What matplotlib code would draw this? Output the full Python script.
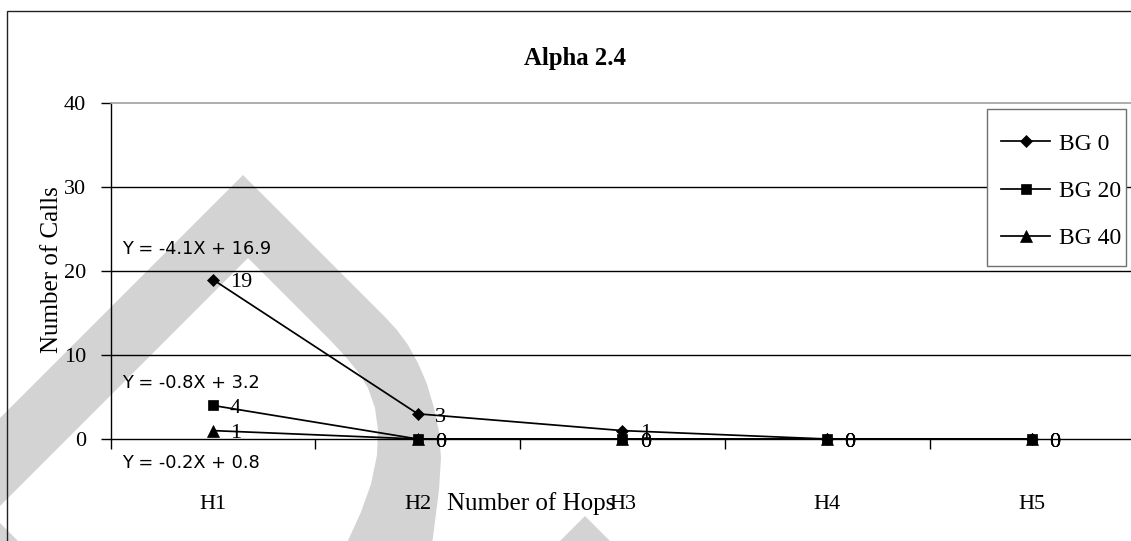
import matplotlib.pyplot as plt
import matplotlib.patches as patches

hops = ['H1', 'H2', 'H3', 'H4', 'H5']
series_names = ['BG 0', 'BG 20', 'BG 40']
bg0 = [19, 3, 1, 0, 0]
bg20 = [4, 0, 0, 0, 0]
bg40 = [1, 0, 0, 0, 0]
trend_labels = ['Y = -4.1X + 16.9', 'Y = -0.8X + 3.2', 'Y = -0.2X + 0.8']

W, H = 1131, 541
serif = 'Liberation Serif'


def px(x, y):
    # pixel position (from top left) to figure fraction
    return (x / W, 1 - y / H)


fig = plt.figure(figsize=(W / 100, H / 100), dpi=100)

# grey drop-shaped background stroke
outer = [(-5, 423), (243, 175), (385, 317), (397, 330), (408, 345), (418, 363),
         (427, 384), (434, 408), (439, 432), (441, 458), (439, 490), (432, 545)]
inner = [(346, 545), (361, 512), (371, 484), (377, 455), (378, 430), (375, 408),
         (368, 388), (358, 372), (345, 356), (330, 340), (248, 258), (-5, 511)]
grey = '#d3d3d3'
drop = patches.Polygon([px(*p) for p in outer + inner], closed=True,
                       transform=fig.transFigure, facecolor=grey,
                       edgecolor='none', zorder=-2)
corner = patches.Polygon([px(-5, 518), px(22, 545), px(-5, 545)], closed=True,
                         transform=fig.transFigure, facecolor=grey,
                         edgecolor='none', zorder=-2)
peak = patches.Polygon([px(585, 516), px(556, 545), px(614, 545)], closed=True,
                       transform=fig.transFigure, facecolor=grey,
                       edgecolor='none', zorder=-2)
fig.patches.extend([drop, corner, peak])

# outer chart border
border = patches.Rectangle(px(6.7, 560), (1150 - 6.7) / W, (560 - 11) / H,
                           transform=fig.transFigure, facecolor='none',
                           edgecolor='#222222', linewidth=1.0, zorder=-1)
fig.patches.append(border)

left, right = 110.5, 1134.5
top, bottom = 103.3, 439
ax = fig.add_axes([left / W, 1 - bottom / H, (right - left) / W, (bottom - top) / H])
ax.set_facecolor('none')

x = list(range(len(hops)))
styles = [dict(marker='D', markersize=6.3),
          dict(marker='s', markersize=7.6),
          dict(marker='^', markersize=8.4)]
for name, vals, st in zip(series_names, [bg0, bg20, bg40], styles):
    ax.plot(x, vals, color='black', linewidth=1.25, markerfacecolor='black',
            markeredgecolor='black', markeredgewidth=0.5, label=name,
            zorder=3, clip_on=False, **st)
    for xi, v in zip(x, vals):
        ax.annotate(str(v), (xi, v), xytext=(12.4, -2.4), textcoords='offset points',
                    ha='left', va='center', fontsize=16, family=serif, zorder=4)

# trendline equations
for lbl, yv in zip(trend_labels, [22.6, 6.7, -2.9]):
    ax.text(-0.445, yv, lbl, ha='left', va='center', fontsize=12.8,
            family='DejaVu Sans', clip_on=False)

ax.set_xlim(-0.5, 4.5)
ax.set_ylim(0, 40)
ax.set_yticks([0, 10, 20, 30, 40])
ax.set_xticks([i - 0.5 for i in range(len(hops) + 1)])
ax.set_xticklabels([])
ax.set_xticks(x, minor=True)
ax.set_xticklabels(hops, minor=True)
ax.tick_params(axis='x', which='major', direction='out', length=7.2, width=1.0)
ax.tick_params(axis='x', which='minor', length=0, pad=40, labelsize=16)
ax.tick_params(axis='y', direction='out', length=7.2, width=1.0, pad=10.5, labelsize=16)
for t in ax.get_xticklabels(minor=True) + ax.get_yticklabels():
    t.set_family(serif)

for yv in [10, 20, 30]:
    ax.axhline(yv, color='black', linewidth=1.0, zorder=1)
ax.spines['top'].set_color('#a0a0a0')
ax.spines['top'].set_linewidth(1.2)
ax.spines['right'].set_visible(False)
ax.spines['left'].set_linewidth(1.0)
ax.spines['bottom'].set_linewidth(1.0)

fig.text(*px(575, 58.6), 'Alpha 2.4', ha='center', va='center', fontsize=17.8,
         fontweight='bold', family=serif)
fig.text(*px(52, 270), 'Number of Calls', ha='center', va='center', rotation=90,
         fontsize=18, family=serif)
fig.text(*px(531, 504), 'Number of Hops', ha='center', va='center',
         fontsize=18, family=serif)

# legend: white box with grey edge, entries laid out inside it
legend_box = patches.Rectangle(px(987, 266), (1126 - 987) / W, (266 - 109) / H,
                               transform=fig.transFigure, facecolor='white',
                               edgecolor='#707070', linewidth=1.0, zorder=4.5)
ax.add_artist(legend_box)
leg = ax.legend(loc='center left', bbox_to_anchor=px(1001, 191),
                bbox_transform=fig.transFigure, frameon=False,
                prop={'family': serif, 'size': 17}, handlelength=2.08,
                handletextpad=0.38, labelspacing=1.09, borderpad=0,
                borderaxespad=0)
leg.set_zorder(5)

fig.savefig('out.png', dpi=100)
